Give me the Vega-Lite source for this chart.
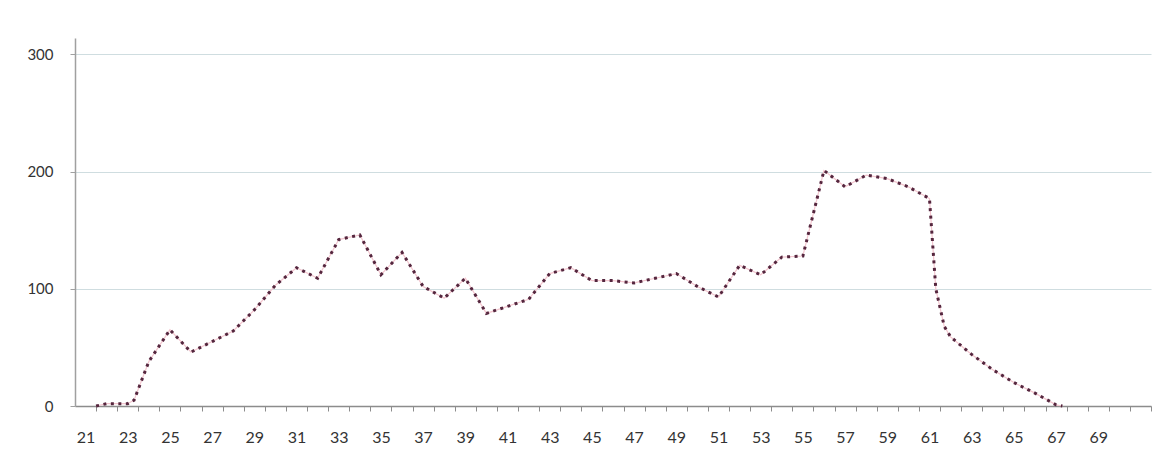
{
  "$schema": "https://vega.github.io/schema/vega-lite/v6.json",
  "autosize": "none",
  "width": 1076,
  "height": 368,
  "padding": {"left": 75, "top": 38, "right": 6, "bottom": 44},
  "background": "white",
  "config": {"view": {"stroke": null}, "font": "Lato"},
  "data": {"values": [
    {"age": 21.5, "count": 0},
    {"age": 22, "count": 2},
    {"age": 23, "count": 2},
    {"age": 23.3, "count": 5},
    {"age": 24, "count": 38},
    {"age": 25, "count": 65},
    {"age": 26, "count": 46},
    {"age": 27, "count": 55},
    {"age": 28, "count": 64},
    {"age": 29, "count": 82},
    {"age": 30, "count": 103},
    {"age": 31, "count": 118},
    {"age": 32, "count": 109},
    {"age": 33, "count": 142},
    {"age": 34, "count": 146},
    {"age": 35, "count": 112},
    {"age": 36, "count": 131},
    {"age": 37, "count": 102},
    {"age": 38, "count": 92},
    {"age": 39, "count": 109},
    {"age": 40, "count": 79},
    {"age": 41, "count": 85},
    {"age": 42, "count": 91},
    {"age": 43, "count": 113},
    {"age": 44, "count": 118},
    {"age": 45, "count": 107},
    {"age": 46, "count": 107},
    {"age": 47, "count": 105},
    {"age": 48, "count": 109},
    {"age": 49, "count": 113},
    {"age": 50, "count": 102},
    {"age": 51, "count": 93},
    {"age": 52, "count": 120},
    {"age": 53, "count": 112},
    {"age": 54, "count": 127},
    {"age": 55, "count": 128},
    {"age": 56, "count": 201},
    {"age": 57, "count": 187},
    {"age": 58, "count": 197},
    {"age": 59, "count": 194},
    {"age": 60, "count": 187},
    {"age": 61, "count": 177},
    {"age": 61.3, "count": 100},
    {"age": 61.7, "count": 68},
    {"age": 62, "count": 59},
    {"age": 63, "count": 44},
    {"age": 64, "count": 31},
    {"age": 65, "count": 20},
    {"age": 66, "count": 11},
    {"age": 67, "count": 1},
    {"age": 67.3, "count": 0}
  ]},
  "encoding": {
    "x": {
      "field": "age", "type": "quantitative",
      "scale": {"domain": [20.5, 71.5], "nice": false, "zero": false},
      "axis": {
        "title": null,
        "values": [20,21,22,23,24,25,26,27,28,29,30,31,32,33,34,35,36,37,38,39,40,41,42,43,44,45,46,47,48,49,50,51,52,53,54,55,56,57,58,59,60,61,62,63,64,65,66,67,68,69,70,71],
        "tickOffset": 10.55,
        "labelOffset": -10.55,
        "labelExpr": "datum.value % 2 == 1 && datum.value < 70 ? datum.label : ''",
        "grid": false,
        "domainColor": "#8c8c8c",
        "domainWidth": 1.5,
        "tickColor": "#8c8c8c",
        "tickSize": 5,
        "tickWidth": 1,
        "labelFontSize": 16,
        "labelColor": "#333333",
        "labelPadding": 18,
        "labelFont": "Lato",
        "labelFlush": false,
        "labelOverlap": false
      }
    },
    "y": {
      "field": "count", "type": "quantitative",
      "scale": {"domain": [0, 314], "nice": false},
      "axis": {
        "title": null,
        "values": [0, 100, 200, 300],
        "format": "d",
        "grid": true,
        "gridColor": "#cfdde0",
        "gridWidth": 1,
        "domainColor": "#a0a0a0",
        "domainWidth": 1.5,
        "tickColor": "#a0a0a0",
        "tickSize": 5,
        "labelFontSize": 15,
        "labelColor": "#333333",
        "labelPadding": 17,
        "labelFont": "Lato"
      }
    }
  },
  "layer": [
    {"mark": {"type": "line", "stroke": "#f3c6cf", "strokeWidth": 1.2}},
    {"mark": {"type": "line", "stroke": "#55263e", "strokeWidth": 3, "strokeDash": [3, 4.5]}}
  ]
}
